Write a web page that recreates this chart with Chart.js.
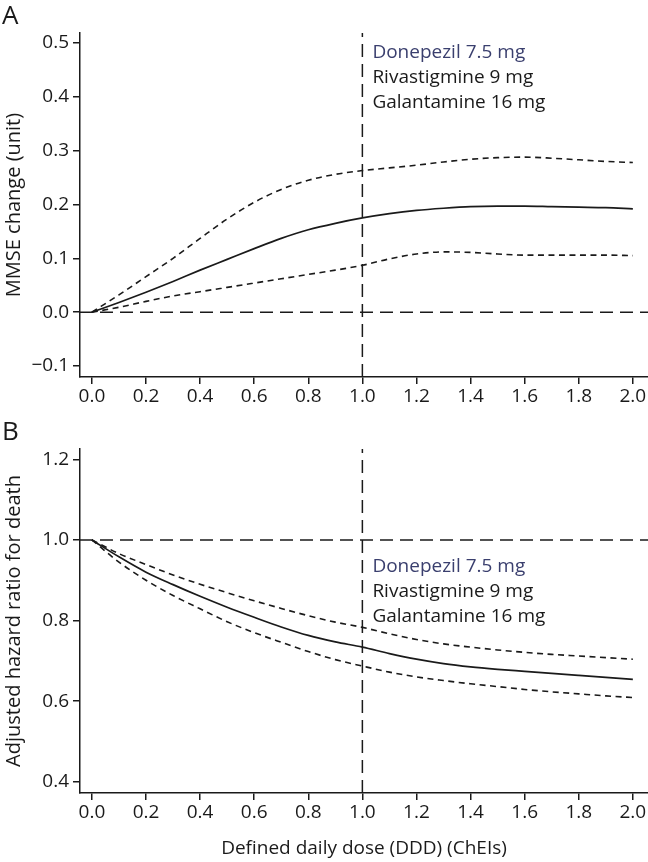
<!DOCTYPE html>
<html><head><meta charset="utf-8">
<script src="https://cdn.jsdelivr.net/npm/chart.js@4"></script>
<style>
html,body{margin:0;padding:0;background:#fff;}
#wrap{position:relative;width:648px;height:862px;overflow:hidden;}
#ca{position:absolute;left:0;top:0;}
#cb{position:absolute;left:0;top:420px;}
</style></head><body>
<div id="wrap">
<canvas id="ca" width="648" height="420"></canvas>
<canvas id="cb" width="648" height="442"></canvas>
</div>
<script>
// ---- data ----
const doseX        = [0,0.1,0.2,0.3,0.4,0.5,0.6,0.7,0.8,0.9,1.0,1.1,1.2,1.3,1.4,1.5,1.6,1.7,1.8,1.9,2.0];
const mmseEstimate = [0,0.018,0.037,0.057,0.078,0.098,0.118,0.137,0.153,0.165,0.175,0.183,0.189,0.193,0.196,0.197,0.197,0.196,0.195,0.194,0.192];
const mmseUpper    = [0,0.032,0.066,0.100,0.137,0.173,0.204,0.228,0.245,0.256,0.263,0.268,0.273,0.279,0.284,0.287,0.288,0.286,0.283,0.280,0.278];
const mmseLower    = [0,0.009,0.020,0.030,0.038,0.046,0.054,0.062,0.070,0.078,0.087,0.099,0.108,0.112,0.111,0.108,0.106,0.106,0.106,0.106,0.105];
const hrEstimate   = [1.000,0.958,0.920,0.889,0.860,0.833,0.808,0.784,0.763,0.747,0.734,0.718,0.704,0.693,0.685,0.679,0.674,0.669,0.664,0.659,0.654];
const hrUpper      = [1.000,0.966,0.939,0.913,0.890,0.869,0.849,0.830,0.812,0.796,0.783,0.767,0.753,0.742,0.734,0.727,0.721,0.716,0.712,0.708,0.704];
const hrLower      = [1.000,0.945,0.900,0.862,0.829,0.797,0.770,0.746,0.723,0.703,0.687,0.672,0.660,0.651,0.643,0.636,0.629,0.623,0.618,0.613,0.609];
const xTickValues    = [0,0.2,0.4,0.6,0.8,1.0,1.2,1.4,1.6,1.8,2.0];
const xTickLabels    = ['0.0','0.2','0.4','0.6','0.8','1.0','1.2','1.4','1.6','1.8','2.0'];
const mmseTickValues = [-0.1,0,0.1,0.2,0.3,0.4,0.5];
const mmseTickLabels = ['\u22120.1','0.0','0.1','0.2','0.3','0.4','0.5'];
const hrTickValues   = [0.4,0.6,0.8,1.0,1.2];
const hrTickLabels   = ['0.4','0.6','0.8','1.0','1.2'];
const referenceDose  = [1.0];
const nullValues     = [0, 1];
const annotationLines = ['Donepezil 7.5 mg','Rivastigmine 9 mg','Galantamine 16 mg'];
const panelLabels    = ['A','B'];
const yTitles        = ['MMSE change (unit)','Adjusted hazard ratio for death'];
const xTitle         = 'Defined daily dose (DDD) (ChEIs)';

// ---- styling / layout ----
Chart.defaults.font.family = "'Open Sans', sans-serif";
Chart.defaults.color = '#1a1a1a';
const INK = '#1a1a1a';
const X_MIN = -0.044, X_MAX = 2.056;

function pts(xs, ys){ return xs.map((x,i)=>({x:x, y:ys[i]})); }
function ds(data, dash, width, smooth){
  return {data:data, borderColor:INK, borderWidth:width, borderDash:dash, pointRadius:0,
    showLine:true, fill:false, tension: smooth?0.35:0, cubicInterpolationMode: smooth?'monotone':'default'};
}

const textPlugin = {
  id:'txt',
  afterDraw(chart, args, o){
    const ctx = chart.ctx;
    ctx.save();
    ctx.textBaseline = 'alphabetic';
    ctx.textAlign = 'left';
    ctx.font = "19px 'Open Sans'";
    const x0 = chart.scales.x.getPixelForValue(referenceDose[0]) + 10;
    annotationLines.forEach((t,i)=>{
      ctx.fillStyle = i===0 ? '#3a3f6e' : INK;
      ctx.fillText(t, x0, o.baseY + i*25);
    });
    ctx.fillStyle = INK;
    ctx.font = "26px 'Open Sans'";
    ctx.fillText(o.letter, 2, o.letterY);
    ctx.restore();
  }
};

function buildChart(id, p){
  const datasets = [
    ds(pts(doseX, p.est), [], 1.7, true),
    ds(pts(doseX, p.up), [6,4.5], 1.6, true),
    ds(pts(doseX, p.lo), [6,4.5], 1.6, true),
    ds([{x:X_MIN,y:p.nullVal},{x:X_MAX,y:p.nullVal}], [13,7], 1.5, false),
    ds([{x:referenceDose[0],y:p.yMin},{x:referenceDose[0],y:p.yMax}], [13,7], 1.5, false)
  ];
  return new Chart(document.getElementById(id), {
    type:'scatter',
    data:{datasets:datasets},
    plugins:[textPlugin],
    options:{
      responsive:false, animation:false,
      layout:{padding:{top:p.padTop, left:0, right:0, bottom:0}},
      plugins:{legend:{display:false}, tooltip:{enabled:false}, txt:{baseY:p.baseY, letter:p.letter, letterY:p.letterY}},
      scales:{
        x:{type:'linear', min:X_MIN, max:X_MAX,
          afterBuildTicks:s=>{ s.ticks = xTickValues.map(v=>({value:v})); },
          afterFit:s=>{ s.height = p.xHeight; },
          ticks:{autoSkip:false, maxRotation:0, padding:1, font:{size:19}, color:INK,
            callback:(v,i)=>xTickLabels[i]},
          grid:{drawOnChartArea:false, drawTicks:true, tickLength:7, color:INK, lineWidth:1.5},
          border:{display:true, color:INK, width:1.5},
          title:{display:p.showXTitle, text:xTitle, font:{size:19}, color:INK, padding:{top:0,bottom:2}}
        },
        y:{type:'linear', min:p.yMin, max:p.yMax,
          afterBuildTicks:s=>{ s.ticks = p.tickValues.map(v=>({value:v})); },
          afterFit:s=>{ s.width = 80; },
          ticks:{autoSkip:false, padding:4, font:{size:19}, color:INK,
            callback:(v,i)=>p.tickLabels[i]},
          grid:{drawOnChartArea:false, drawTicks:true, tickLength:7, color:INK, lineWidth:1.5},
          border:{display:true, color:INK, width:1.5},
          title:{display:true, text:p.yTitle, font:{size:20}, color:INK, padding:{top:2,bottom:0}}
        }
      }
    }
  });
}

buildChart('ca', {est:mmseEstimate, up:mmseUpper, lo:mmseLower, nullVal:nullValues[0],
  yMin:-0.1205, yMax:0.5186, tickValues:mmseTickValues, tickLabels:mmseTickLabels, yTitle:yTitles[0],
  padTop:33, xHeight:43, showXTitle:false, baseY:58, letter:panelLabels[0], letterY:24});
buildChart('cb', {est:hrEstimate, up:hrUpper, lo:hrLower, nullVal:nullValues[1],
  yMin:0.372, yMax:1.2256, tickValues:hrTickValues, tickLabels:hrTickLabels, yTitle:yTitles[1],
  padTop:29, xHeight:69, showXTitle:true, baseY:152, letter:panelLabels[1], letterY:20});
</script>
</body></html>
